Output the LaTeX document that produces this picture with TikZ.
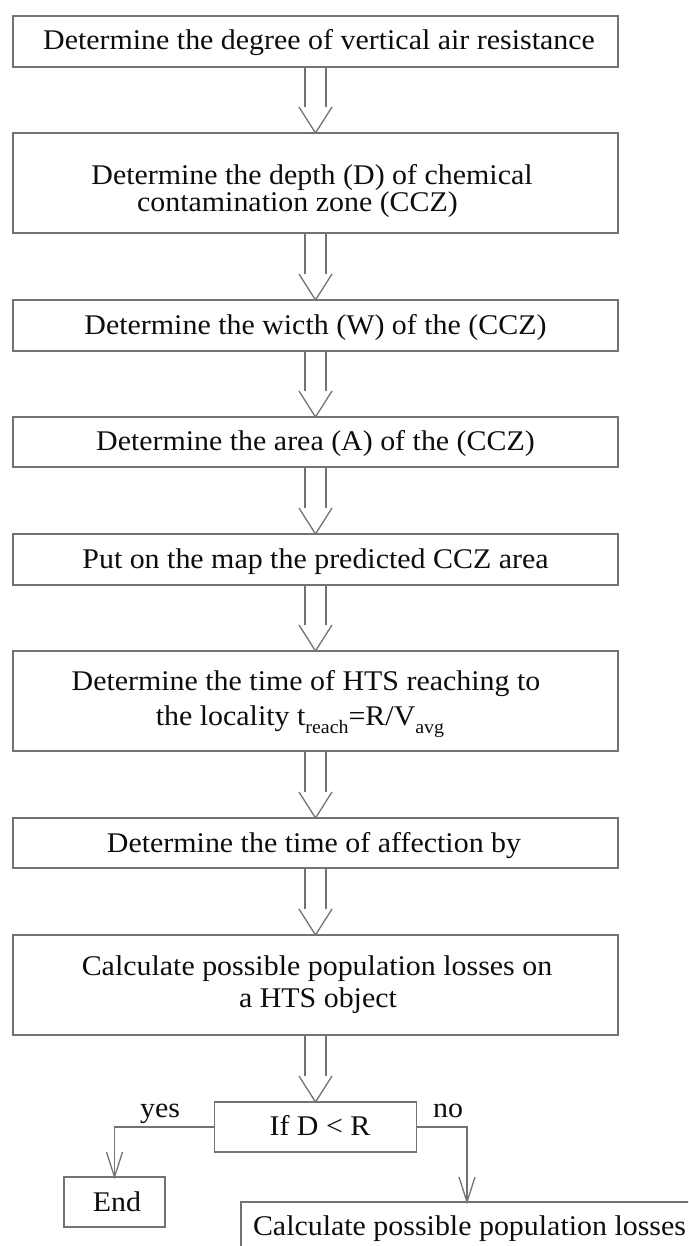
\documentclass[tikz,border=0pt]{standalone}
\usepackage{fontspec}
\setmainfont{Liberation Serif}[FakeStretch=1.05]
\usetikzlibrary{calc}
\newcommand\dblarrow[2]{%
  \draw[ln] ([xshift=-10.5pt]#1.south) -- ([xshift=-10.5pt,yshift=26pt]#2.north);
  \draw[ln] ([xshift=10.5pt]#1.south) -- ([xshift=10.5pt,yshift=26pt]#2.north);
  \draw[ln] ([xshift=-16.5pt,yshift=26pt]#2.north) -- (#2.north) -- ([xshift=16.5pt,yshift=26pt]#2.north);
}
\newcommand\lowsub[1]{\raisebox{-8pt}{\fontsize{19pt}{19pt}\selectfont #1}}
\begin{document}
\begin{tikzpicture}[x=1pt,y=-1pt,
  ln/.style={draw=black!55,line width=1.3pt},
  box/.style={draw=black!55,line width=1.3pt,rectangle,inner sep=0pt,outer sep=0pt},
  txt/.style={anchor=base,inner sep=0pt,outer sep=0pt,text=black!95,font=\fontsize{28.5pt}{28pt}\selectfont}]
\useasboundingbox (0,0) rectangle (688,1246);
\clip (0,0) rectangle (688,1246);
\fill[white] (0,0) rectangle (688,1246);

% boxes
\node[box,minimum width=605pt,minimum height=51pt] (b1) at (315.5,41.5) {};
\node[box,minimum width=605pt,minimum height=100pt] (b2) at (315.5,183) {};
\node[box,minimum width=605pt,minimum height=51pt] (b3) at (315.5,325.5) {};
\node[box,minimum width=605pt,minimum height=50pt] (b4) at (315.5,442) {};
\node[box,minimum width=605pt,minimum height=51pt] (b5) at (315.5,559.5) {};
\node[box,minimum width=605pt,minimum height=100pt] (b6) at (315.5,701) {};
\node[box,minimum width=605pt,minimum height=50pt] (b7) at (315.5,843) {};
\node[box,minimum width=605pt,minimum height=100pt] (b8) at (315.5,985) {};
\node[box,minimum width=202pt,minimum height=50pt] (dec) at (315.5,1127) {};
\node[box,minimum width=101pt,minimum height=50pt] (end) at (114.5,1202) {};
\node[box,anchor=north west,minimum width=480pt,minimum height=80pt] (last) at (241,1202) {};

% texts
\node[txt] (t1) at (319,50) {Determine the degree of vertical air resistance};
\node[txt] (t2a) at (312,185) {Determine the depth (D) of chemical};
\node[txt] (t2b) at (297.5,212) {contamination zone (CCZ)};
\node[txt] (t3) at (315.5,334) {Determine the wicth (W) of the (CCZ)};
\node[txt] (t4) at (315.5,450.5) {Determine the area (A) of the (CCZ)};
\node[txt] (t5) at (315.5,568) {Put on the map the predicted CCZ area};
\node[txt] (t6a) at (306,690) {Determine the time of HTS reaching to};
\node[txt] (t6b) at (300,725) {the locality t\lowsub{reach}=R/V\lowsub{avg}};
\node[txt] (t7) at (314,852) {Determine the time of affection by};
\node[txt] (t8a) at (317,975) {Calculate possible population losses on};
\node[txt] (t8b) at (318,1007) {a HTS object};
\node[txt] (tdec) at (320,1135) {If D < R};
\node[txt] (tend) at (117,1211) {End};
\node[txt,anchor=base west] (tlast) at (253,1235) {Calculate possible population losses};
\node[txt] (yes) at (160,1117) {yes};
\node[txt] (no) at (448,1117) {no};

% connectors
\dblarrow{b1}{b2}
\dblarrow{b2}{b3}
\dblarrow{b3}{b4}
\dblarrow{b4}{b5}
\dblarrow{b5}{b6}
\dblarrow{b6}{b7}
\dblarrow{b7}{b8}
\dblarrow{b8}{dec}

\draw[ln] (dec.west) -| (end.north);
\draw[ln] ([xshift=-8pt,yshift=25pt]end.north) -- (end.north) -- ([xshift=8pt,yshift=25pt]end.north);
\draw[ln] (dec.east) -| ([xshift=226pt]last.north west);
\draw[ln] ([xshift=218pt,yshift=25pt]last.north west) -- ([xshift=226pt]last.north west) -- ([xshift=234pt,yshift=25pt]last.north west);
\end{tikzpicture}
\end{document}
